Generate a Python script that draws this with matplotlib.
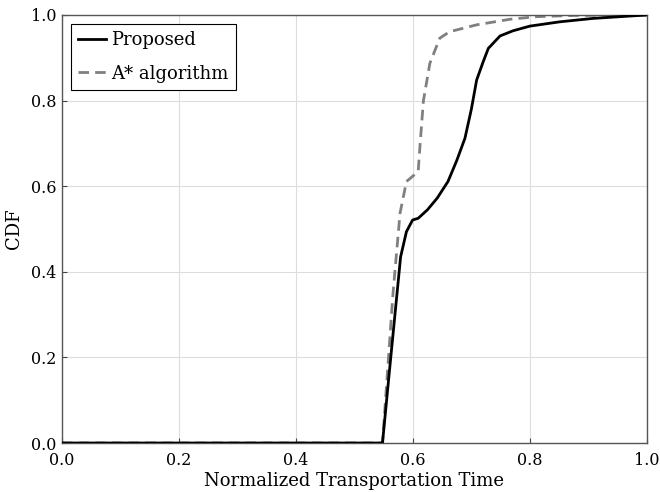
import numpy as np
import matplotlib
matplotlib.use('Agg')
import matplotlib.pyplot as plt

# ===== 数据=====
prop_x = [0.0, 0.548, 0.56, 0.579, 0.589, 0.5995, 0.609, 0.625, 0.6415, 0.660,
          0.675, 0.689, 0.700, 0.709, 0.720, 0.729, 0.749, 0.771, 0.800, 0.851,
          0.908, 0.965, 1.0]
prop_y = [0.0, 0.0, 0.17, 0.435, 0.494, 0.521, 0.525, 0.545, 0.572, 0.611,
          0.66, 0.712, 0.78, 0.848, 0.89, 0.922, 0.951, 0.963, 0.974, 0.984,
          0.992, 0.997, 1.0]

astar_x = [0.0, 0.548, 0.566, 0.578, 0.589, 0.609, 0.612, 0.618, 0.629, 0.646,
           0.663, 0.709, 0.766, 0.811, 0.876, 1.0]
astar_y = [0.0, 0.0, 0.35, 0.537, 0.611, 0.634, 0.692, 0.80, 0.887, 0.946,
           0.961, 0.977, 0.990, 0.996, 0.999, 1.0]

ticks = [0.0, 0.2, 0.4, 0.6, 0.8, 1.0]

plt.rcParams['font.family'] = 'DejaVu Serif'

fig = plt.figure(figsize=(6.6, 4.93), dpi=100)
ax = fig.add_axes([0.094, 0.1014, 0.886, 0.8682])

ax.plot(prop_x, prop_y, color='black', lw=2, label='Proposed', zorder=3)
ax.plot(astar_x, astar_y, color='#808080', lw=2, ls=(0, (3.8, 2.2)),
        label='A* algorithm', zorder=2)

ax.set_xlim(0, 1)
ax.set_ylim(0, 1)
ax.set_xticks(ticks)
ax.set_yticks(ticks)
ax.set_xticklabels([f'{v:.1f}' for v in ticks])
ax.set_yticklabels([f'{v:.1f}' for v in ticks])
ax.tick_params(direction='in', labelsize=11.5, color='#444444')
ax.tick_params(axis='x', pad=6.5)
ax.tick_params(axis='y', pad=4)
ax.grid(color='#dddddd', lw=0.8, zorder=0)
for s in ax.spines.values():
    s.set_color('#555555')
    s.set_linewidth(1.0)

ax.set_xlabel('Normalized Transportation Time', fontsize=13, labelpad=2)
ax.set_ylabel('CDF', fontsize=13, labelpad=6)

leg = ax.legend(loc='upper left', fontsize=13, fancybox=False, framealpha=1,
                edgecolor='black', handlelength=1.55, handletextpad=0.28,
                borderpad=0.4, labelspacing=0.85, borderaxespad=0.5)
leg.get_frame().set_linewidth(0.8)

fig.savefig('out.png', dpi=100)
